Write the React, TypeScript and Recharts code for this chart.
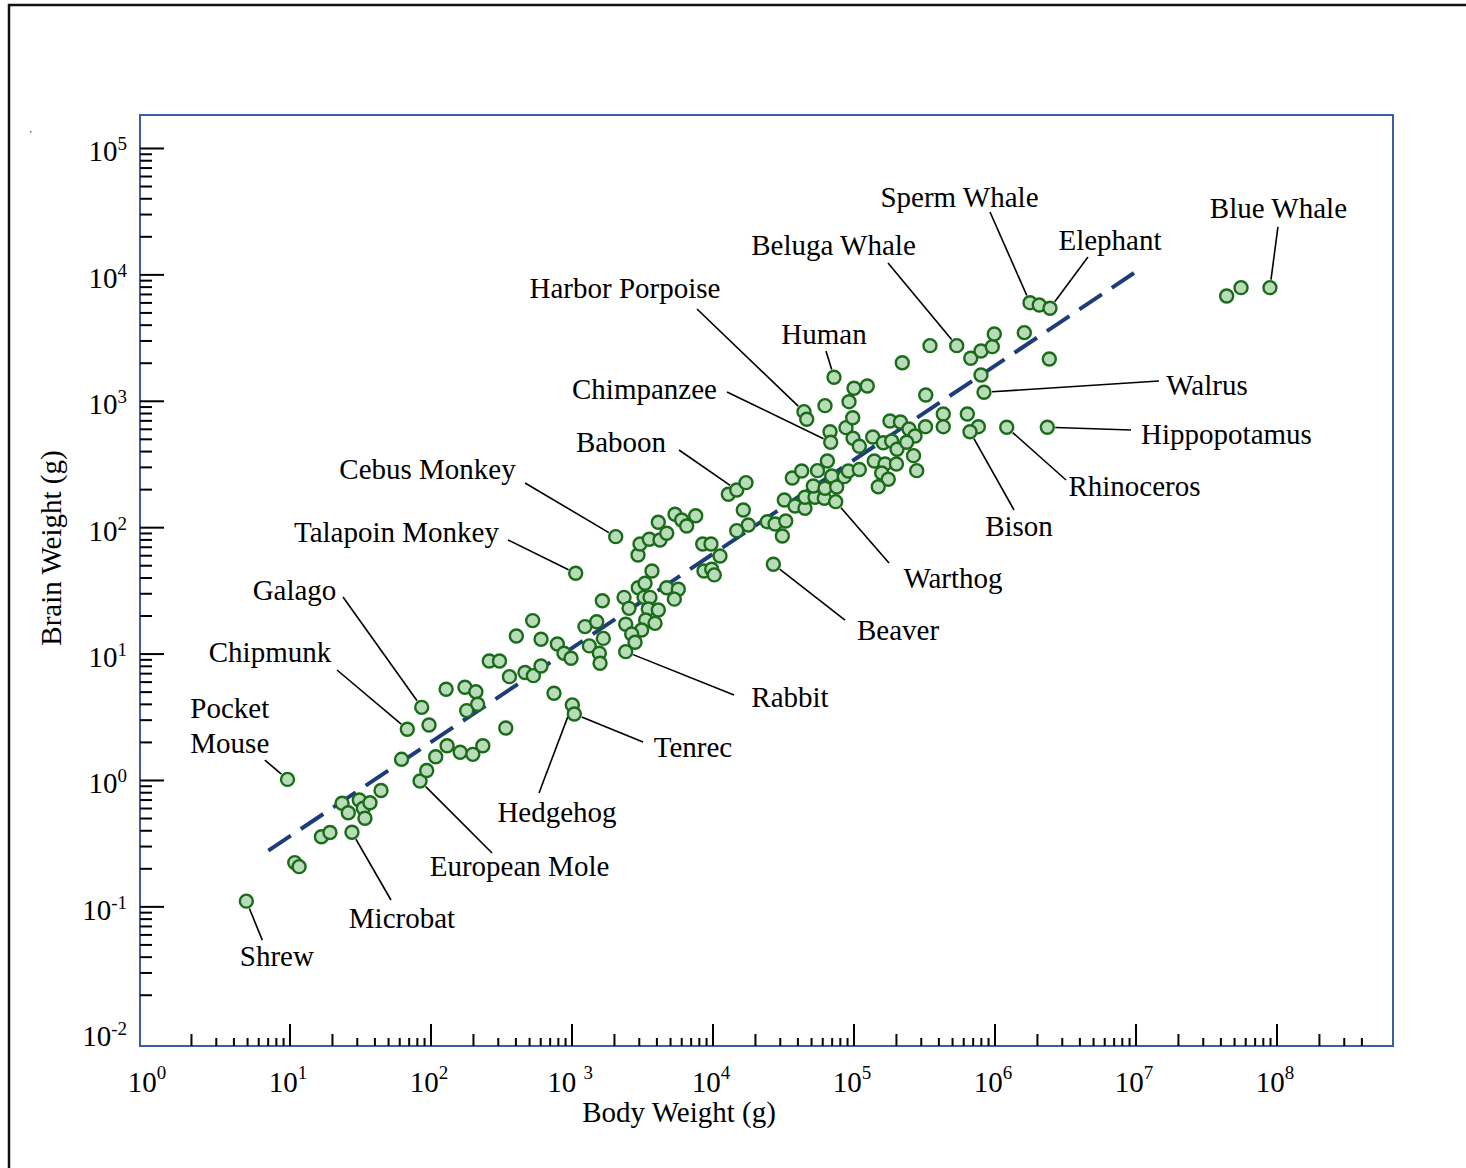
import React from 'react';
import { ScatterChart, Scatter, XAxis, YAxis, ReferenceArea } from 'recharts';

// body weight (g) and brain weight (g), one entry per species
const bodyWeight = [
  4.9, 10.8, 11.6, 9.6, 16.7, 19.2, 27.5, 23.4, 25.9, 31,
  33.1, 36.9, 34, 44.2, 61.8, 67.9, 85.9, 96.8, 83.6, 93.2,
  108, 130, 161, 198, 233, 128, 174, 208, 214, 179,
  259, 306, 360, 403, 464, 532, 526, 603, 603, 787,
  877, 984, 339, 745, 1005, 1038, 1062, 1236, 1497, 1667,
  1327, 1563, 1581, 1641, 2339, 2537, 2951, 3296, 3690, 3243,
  3574, 3476, 4093, 3333, 3880, 3120, 2404, 2650, 2799, 2404,
  4696, 5675, 5318, 2042, 2938, 3036, 3533, 4209, 4696, 4093,
  5375, 5998, 6504, 7540, 8453, 9680, 11210, 8630, 9790, 10210,
  26790, 12840, 14730, 17140, 16400, 17790, 14730, 24270, 27540, 32800,
  31030, 32050, 38170, 44900, 36510, 42580, 44900, 52880, 61540, 74170,
  51450, 62280, 55110, 64710, 69500, 75400, 85310, 91200, 109100, 67600,
  68370, 87760, 98420, 109100, 135800, 161300, 185000, 201800, 179900, 213600,
  245500, 271000, 236400, 139300, 165900, 200000, 157100, 175000, 148600, 264300,
  278400, 321500, 429700, 429700, 636400, 762000, 664800, 1211000, 2350000, 44190,
  46210, 62280, 92170, 97900, 72140, 100000, 124200, 220100, 322800, 345900,
  535200, 672700, 795700, 957000, 988700, 1614000, 795700, 835600, 2428000, 1771000,
  2061000, 2455000, 43970000, 55590000, 89130000,
];
const brainWeight = [
  0.111, 0.224, 0.208, 1.02, 0.359, 0.388, 0.389, 0.66, 0.556, 0.701,
  0.603, 0.667, 0.502, 0.834, 1.47, 2.54, 3.79, 2.75, 0.99, 1.2,
  1.54, 1.88, 1.67, 1.61, 1.88, 5.27, 5.46, 5.04, 4.01, 3.57,
  8.82, 8.82, 6.63, 13.9, 7.15, 6.75, 18.4, 13.1, 8.05, 12.0,
  10.15, 9.26, 2.6, 4.9, 3.96, 3.36, 43.6, 16.5, 18.0, 13.3,
  11.6, 10.15, 8.46, 26.4, 28.1, 23.0, 33.5, 36.3, 45.4, 28.1,
  28.1, 22.7, 22.3, 18.6, 17.5, 15.5, 17.2, 14.4, 12.4, 10.45,
  33.5, 32.6, 27.2, 84.9, 60.8, 74.3, 80.9, 79.9, 90.3, 110.4,
  127.6, 115.1, 103.1, 124.4, 74.3, 74.3, 59.7, 45.4, 46.9, 42.3,
  51.3, 183.7, 198.7, 227, 138, 105, 94.7, 111.5, 107, 113,
  86, 165.6, 148.5, 142.3, 247.3, 281, 174, 174, 170.9, 160.6,
  213.8, 205, 282.5, 337.2, 256.5, 209.9, 253.2, 281, 288.6, 574.5,
  474, 618.3, 509.6, 440.6, 522, 470, 485.3, 417, 698.5, 685.5,
  603.8, 531.6, 474, 337.2, 319, 319, 270.8, 241.5, 211, 371.5,
  282.5, 629.5, 794, 629.5, 794, 629.5, 574.5, 622.7, 622.7, 827.5,
  720.8, 923, 992.6, 741.5, 1549, 1267, 1321, 2019, 1122, 2754,
  2754, 2188, 2500, 2704, 3407, 3492, 1615, 1178, 2161, 6026,
  5780, 5445, 6808, 7925, 7925,
];

// end points of the dashed power-law fit
const fitBody = [7.02, 9.68e6];
const fitBrain = [0.2786, 10350];

// labelled species and the index of their point above
const labelNames = [
  'Sperm Whale', 'Elephant', 'Blue Whale', 'Beluga Whale', 'Harbor Porpoise',
  'Human', 'Chimpanzee', 'Baboon', 'Cebus Monkey', 'Talapoin Monkey',
  'Galago', 'Chipmunk', 'Pocket\nMouse', 'Shrew', 'Microbat',
  'European Mole', 'Hedgehog', 'Tenrec', 'Rabbit', 'Beaver',
  'Warthog', 'Bison', 'Rhinoceros', 'Hippopotamus', 'Walrus',
];
const labelPoint = [
  169, 171, 174, 160, 149, 154, 120, 92, 73, 46,
  16, 15, 3, 0, 6, 18, 44, 45, 69, 90,
  109, 146, 147, 148, 167,
];

// axis decades and minor steps
const xDecades = [0, 1, 2, 3, 4, 5, 6, 7, 8];
const xTickBase = ['10', '10', '10', '10 ', '10', '10', '10', '10', '10'];
const yDecades = [-2, -1, 0, 1, 2, 3, 4, 5];
const minorSteps = [2, 3, 4, 5, 6, 7, 8, 9];
const xDomain = [0.863, 6.65e8];
const yDomain = [0.00793, 184000];

// label placement: text centre dx, dy and leader start dx, dy, relative to the point (px)
const labelLayout = [
  [-70.5, -105.7, -40, -90.7],
  [60, -68.3, 38, -51.3],
  [8.5, -79.7, 8, -60.7],
  [-123.2, -100.7, -68.7, -82.7],
  [-179, -123.7, -107, -102.7],
  [-10, -43.3, -8, -26.3],
  [-186.2, -53.3, -103.7, -50.3],
  [-115.7, -48, -57.7, -40],
  [-188.2, -67.7, -90.7, -53.7],
  [-179.2, -41.3, -67.7, -33.3],
  [-127.2, -117.3, -78.7, -110.3],
  [-137.3, -77.3, -70.3, -59.3],
  [-57.7, -53.8, -22.7, -19.3],
  [30.5, 55, 16, 39],
  [50, 85.7, 39, 67.7],
  [99.5, 85, 72, 72],
  [-15.3, 107, -33.3, 88],
  [118.7, 33, 68.7, 28],
  [164.3, 45.3, 108.3, 43.3],
  [124.7, 65.7, 71.7, 55.7],
  [117.3, 76.3, 53.3, 61.3],
  [49, 94.3, 44, 78.3],
  [127.8, 58.7, 59.3, 52.7],
  [179.2, 6.7, 83.7, 2.7],
  [223, -7.3, 175, -11.3],
];

const FONT = '"Liberation Serif", "Times New Roman", Times, serif';
const FRAME = '#3d5ea6';

const points = bodyWeight.map((b, i) => ({ x: b, y: brainWeight[i] }));
const fitData = fitBody.map((b, i) => ({ x: b, y: fitBrain[i] }));
const labelData = labelNames.map((name, i) => ({
  x: bodyWeight[labelPoint[i]],
  y: brainWeight[labelPoint[i]],
  name,
  layout: labelLayout[i],
}));

const xTicks = xDecades.flatMap((d) => [
  10 ** d,
  ...minorSteps.filter((k) => d < 8 || k <= 4).map((k) => k * 10 ** d),
]);
const yTicks = yDecades.flatMap((d) => [
  10 ** d,
  ...(d < 5 ? minorSteps.map((k) => k * 10 ** d) : []),
]);

const decadeOf = (v: number) => {
  const lg = Math.log10(v);
  const e = Math.round(lg);
  return Math.abs(lg - e) < 1e-6 ? e : null;
};

const XTick = ({ x, y, payload }: any) => {
  const v = payload.value;
  const e = decadeOf(v);
  if (e === null) {
    const k = Math.round(v / 10 ** Math.floor(Math.log10(v) + 1e-9));
    return <line x1={x} x2={x} y1={y} y2={y - (k === 2 ? 12 : 8)} stroke="#000" strokeWidth={2} />;
  }
  return (
    <g>
      {e > 0 && <line x1={x} x2={x} y1={y} y2={y - 22} stroke="#000" strokeWidth={2} />}
      <text x={x - 2} y={y + 46} textAnchor="middle" fontSize={29} fontFamily={FONT} fill="#000" style={{ whiteSpace: 'pre' }}>
        {xTickBase[e]}
        <tspan fontSize={19} dy={-13}>{e}</tspan>
      </text>
    </g>
  );
};

const YTick = ({ x, y, payload }: any) => {
  const e = decadeOf(payload.value);
  if (e === null) {
    return <line x1={x} x2={x + 12} y1={y} y2={y} stroke="#000" strokeWidth={2} />;
  }
  return (
    <g>
      {e > -2 && <line x1={x} x2={x + 24} y1={y} y2={y} stroke="#000" strokeWidth={2} />}
      <text x={x - 13} y={y + 13} textAnchor="end" fontSize={29} fontFamily={FONT} fill="#000">
        10
        <tspan fontSize={19} dy={-11}>{e}</tspan>
      </text>
    </g>
  );
};

const SpeciesDot = ({ cx, cy }: any) => (
  <circle cx={cx} cy={cy} r={6.5} fill="#b8dcb8" stroke="#1a6b1a" strokeWidth={2.4} />
);

const Annotation = ({ cx, cy, payload }: any) => {
  const [tx, ty, lx, ly] = payload.layout;
  const len = Math.hypot(lx, ly);
  const ex = cx + (lx / len) * 8;
  const ey = cy + (ly / len) * 8;
  const lines = payload.name.split('\n');
  const top = cy + ty + 10 - (lines.length - 1) * 17.5;
  return (
    <g>
      <line x1={cx + lx} y1={cy + ly} x2={ex} y2={ey} stroke="#000" strokeWidth={1.6} />
      <text x={cx + tx} y={top} textAnchor="middle" fontSize={29} fontFamily={FONT} fill="#000">
        {lines.map((l: string, i: number) => (
          <tspan key={i} x={cx + tx} dy={i === 0 ? 0 : 35}>{l}</tspan>
        ))}
      </text>
    </g>
  );
};

export default function App() {
  return (
    <div style={{ position: 'absolute', left: 0, top: 0, width: 1466, height: 1168, background: '#fff' }}>
      <div style={{ position: 'absolute', left: 0, top: 0 }}>
        <ScatterChart width={1466} height={1168} margin={{ top: 115, right: 73, bottom: 62, left: 80 }}>
          <XAxis
            dataKey="x"
            type="number"
            scale="log"
            domain={xDomain}
            allowDataOverflow
            ticks={xTicks}
            interval={0}
            height={60}
            axisLine={false}
            tickLine={false}
            tickSize={0}
            tickMargin={0}
            tick={(p: any) => <XTick {...p} />}
          />
          <YAxis
            dataKey="y"
            type="number"
            scale="log"
            domain={yDomain}
            allowDataOverflow
            ticks={yTicks}
            interval={0}
            width={60}
            axisLine={false}
            tickLine={false}
            tickSize={0}
            tickMargin={0}
            tick={(p: any) => <YTick {...p} />}
          />
          <ReferenceArea
            x1={xDomain[0]}
            x2={xDomain[1]}
            y1={yDomain[0]}
            y2={yDomain[1]}
            fill="none"
            fillOpacity={0}
            stroke={FRAME}
            strokeWidth={2}
          />
          <Scatter data={labelData} shape={(p: any) => <Annotation {...p} />} isAnimationActive={false} />
          <Scatter
            data={fitData}
            fill="#1d3d7a"
            line={{ stroke: '#1d3d7a', strokeWidth: 4, strokeDasharray: '27 12' }}
            shape={() => <g />}
            isAnimationActive={false}
          />
          <Scatter data={points} shape={(p: any) => <SpeciesDot {...p} />} isAnimationActive={false} />
        </ScatterChart>
      </div>
      <svg width={1466} height={1168} style={{ position: 'absolute', left: 0, top: 0, pointerEvents: 'none' }}>
        <path d="M9 1168 V5 H1466" fill="none" stroke="#111" strokeWidth={2.5} />
        <rect x={30} y={131} width={1.5} height={1.5} fill="#666" />
        <text x={679} y={1122} textAnchor="middle" fontSize={29} fontFamily={FONT} fill="#000">
          Body Weight (g)
        </text>
        <text x={61} y={548} textAnchor="middle" fontSize={29} fontFamily={FONT} fill="#000" transform="rotate(-90 61 548)">
          Brain Weight (g)
        </text>
      </svg>
    </div>
  );
}
